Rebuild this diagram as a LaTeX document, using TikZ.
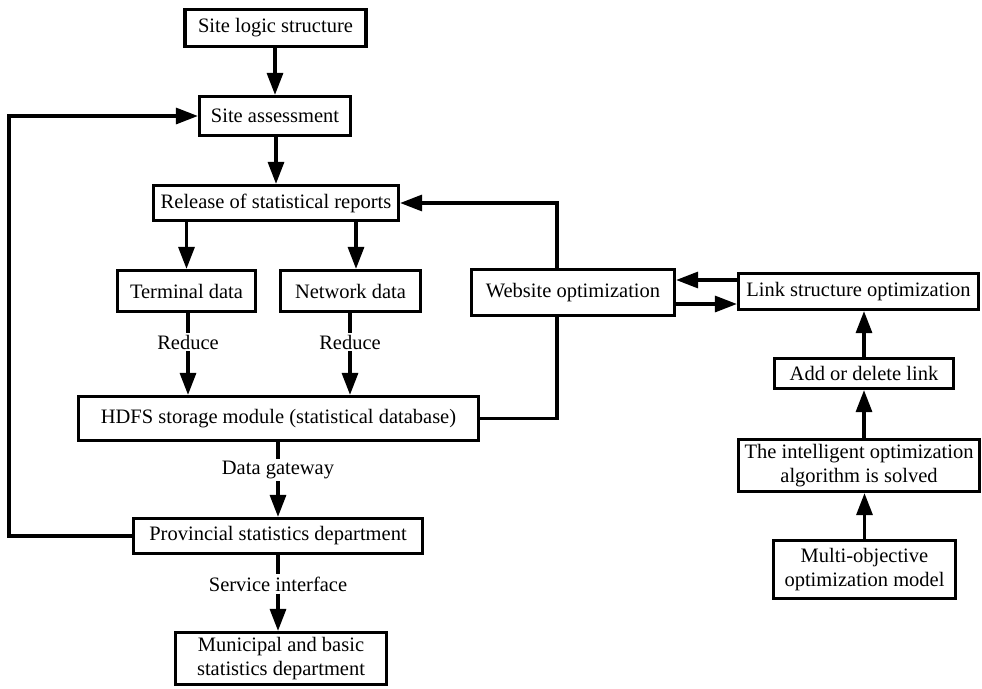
\documentclass[tikz,border=0pt]{standalone}
\usepackage{fontspec}
\setmainfont{Liberation Serif}
\usetikzlibrary{arrows.meta}
\begin{document}
\begin{tikzpicture}[x=1pt,y=-1pt,
  font=\fontsize{20.5}{23.5}\selectfont,
  box/.style={draw, line width=3.2pt, inner sep=0pt, align=center},
  ln/.style={line width=3.2pt},
  arr/.style={line width=3.2pt, -{Triangle[length=22pt,width=16pt]}},
  lbl/.style={inner sep=2pt}]
\useasboundingbox (0,0) rectangle (982,688);
\node[box, minimum width=181pt, minimum height=37pt] (slog) at (275.5,28) {Site logic structure};
\node[box, minimum width=151pt, minimum height=39pt] (sass) at (275,116) {Site assessment};
\node[box, minimum width=245pt, minimum height=35pt] (rel) at (276,203) {Release of statistical reports};
\node[box, minimum width=138pt, minimum height=41pt] (term) at (186.5,291) {Terminal data};
\node[box, minimum width=140pt, minimum height=41pt] (net) at (350.5,291) {Network data};
\node[box, minimum width=203pt, minimum height=46pt] (web) at (573,292.5) {Website optimization};
\node[box, minimum width=240pt, minimum height=36pt] (link) at (858.5,291.5) {Link structure optimization};
\node[box, minimum width=400pt, minimum height=44pt] (hdfs) at (278.5,418.5) {HDFS storage module (statistical database)};
\node[box, minimum width=179pt, minimum height=30pt] (add) at (864,373.5) {Add or delete link};
\node[box, minimum width=241pt, minimum height=52pt] (intel) at (859,465.5) {The intelligent optimization\\algorithm is solved};
\node[box, minimum width=182pt, minimum height=58pt] (multi) at (864.5,569.5) {Multi-objective\\optimization model};
\node[box, minimum width=289pt, minimum height=35pt] (prov) at (278,536) {Provincial statistics department};
\node[box, minimum width=211pt, minimum height=52pt] (muni) at (281,658.5) {Municipal and basic\\statistics department};

\node[lbl] (red1) at (188,342) {Reduce};
\node[lbl] (red2) at (350,342) {Reduce};
\node[lbl] (gate) at (278,470) {Data gateway};
\node[lbl] (serv) at (278,584) {Service interface};

\draw[arr] (slog.south -| sass.north) -- (sass.north);
\draw[arr] (sass.south -| rel.north) -- (rel.north);
\draw[arr] (rel.south -| term.north) -- (term.north);
\draw[arr] (356,0 |- rel.south) -- (356,0 |- net.north);

\draw[ln] (188,0 |- term.south) -- (red1.north);
\draw[arr] (red1.south) -- (188,0 |- hdfs.north);
\draw[ln] (350,0 |- net.south) -- (red2.north);
\draw[arr] (red2.south) -- (350,0 |- hdfs.north);

\draw[ln] (278,0 |- hdfs.south) -- (gate.north);
\draw[arr] (gate.south) -- (278,0 |- prov.north);
\draw[ln] (278,0 |- prov.south) -- (serv.north);
\draw[arr] (serv.south) -- (278,0 |- muni.north);

\draw[arr] (prov.west) -- (9,0 |- prov.west) |- (sass.west);
\draw[arr] (557,0 |- web.north) |- (rel.east);
\draw[ln] (hdfs.east) -| (557,0 |- web.south);

\draw[arr] (link.west |- 0,280) -- (web.east |- 0,280);
\draw[arr] (web.east |- 0,304) -- (link.west |- 0,304);

\draw[arr] (multi.north) -- (multi.north |- intel.south);
\draw[arr] (intel.north -| add.south) -- (add.south);
\draw[arr] (add.north) -- (add.north |- link.south);
\end{tikzpicture}
\end{document}
